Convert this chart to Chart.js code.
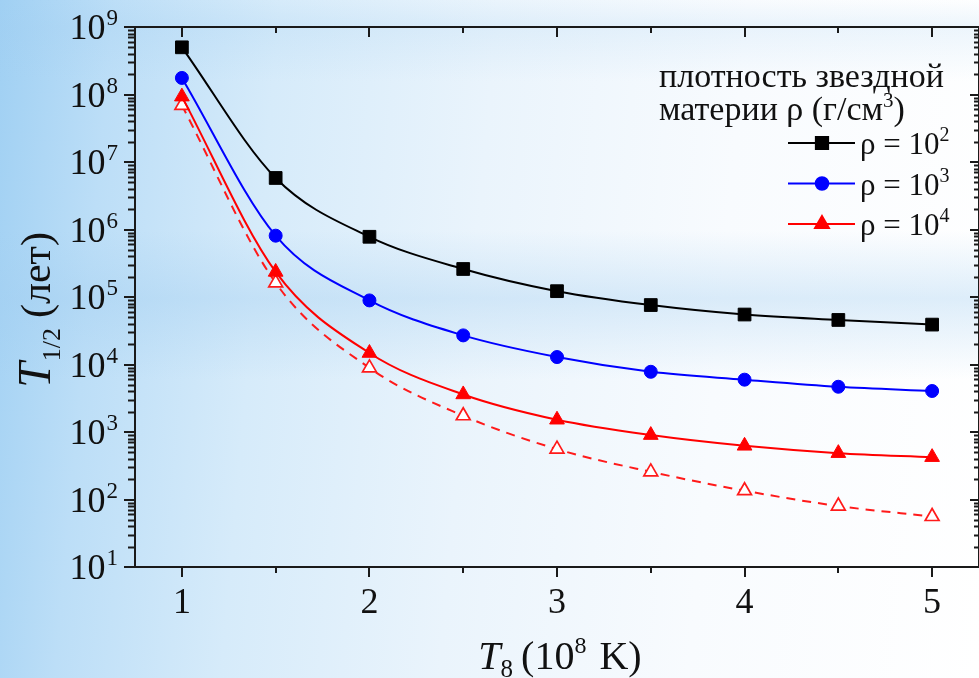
<!DOCTYPE html>
<html>
<head>
<meta charset="utf-8">
<script src="https://cdn.jsdelivr.net/npm/chart.js@4.4.1/dist/chart.umd.min.js"></script>
<style>
  html, body { margin: 0; padding: 0; width: 979px; height: 678px; overflow: hidden; }
  body {
    background:
      linear-gradient(180deg, rgba(160,205,240,0) 0%, rgba(160,205,240,0.18) 4%, rgba(160,205,240,0) 12%,
                      rgba(160,205,240,0) 34%, rgba(160,205,240,0.35) 44%, rgba(160,205,240,0) 56%,
                      rgba(160,205,240,0) 100%),
      linear-gradient(95deg, #a0d0f3 0%, #bcdef7 11%, #d6ebfa 27%, #eaf4fc 48%, #f8fbfe 72%, #ffffff 100%);
  }
  #wrap { position: relative; width: 979px; height: 678px; }
</style>
</head>
<body>
<div id="wrap"><canvas id="chart" width="979" height="678"></canvas></div>
<script>
// Temperature grid, T8 in units of 10^8 K
const temps = [1, 1.5, 2, 2.5, 3, 3.5, 4, 4.5, 5];
// Half-life T1/2 (years) for each stellar matter density
const halfLifeRho2 = [5.0e8, 5.8e6, 7.8e5, 2.6e5, 1.22e5, 7.6e4, 5.5e4, 4.57e4, 3.9e4];
const halfLifeRho3 = [1.76e8, 8.1e5, 8.9e4, 2.7e4, 1.29e4, 7.8e3, 5.96e3, 4.68e3, 4.05e3];
const halfLifeRho4 = [9.3e7, 2.35e5, 1.48e4, 3.6e3, 1.52e3, 900, 624, 486, 424];
const halfLifeRho4Alt = [6.9e7, 1.62e5, 8.9e3, 1.74e3, 557, 257, 135, 80, 56];
// Axis ticks
const xTickValues = [1, 2, 3, 4, 5];
const xMinorValues = [1.5, 2.5, 3.5, 4.5];
const yExponents = [1, 2, 3, 4, 5, 6, 7, 8, 9];
// Legend captions
const legendTitle1 = 'плотность звездной';
const legendTitle2 = 'материи ρ (г/см';
const densityExponents = ['2', '3', '4'];

const SERIF = '"Liberation Serif", "Times New Roman", serif';
const toPoints = arr => temps.map((t, i) => ({ x: t, y: arr[i] }));

// Text runs with sub/superscripts
function richWidth(ctx, parts) {
  let w = 0;
  for (const p of parts) { ctx.font = p.font; w += ctx.measureText(p.t).width + (p.gap || 0); }
  return w;
}
function drawRich(ctx, parts, x, y, align) {
  const w = richWidth(ctx, parts);
  let cx = align === 'right' ? x - w : align === 'center' ? x - w / 2 : x;
  ctx.textAlign = 'left';
  ctx.textBaseline = 'alphabetic';
  for (const p of parts) {
    ctx.font = p.font;
    ctx.fillText(p.t, cx, y + (p.dy || 0));
    cx += ctx.measureText(p.t).width + (p.gap || 0);
  }
}

function drawMarker(ctx, style, x, y, r, fill, stroke) {
  ctx.save();
  ctx.fillStyle = fill; ctx.strokeStyle = stroke; ctx.lineWidth = 1.5;
  ctx.beginPath();
  if (style === 'rect') {
    const s = Math.SQRT1_2 * r;
    ctx.rect(x - s, y - s, 2 * s, 2 * s);
  } else if (style === 'circle') {
    ctx.arc(x, y, r, 0, Math.PI * 2);
  } else {
    const half = r * Math.sqrt(3) / 2;
    ctx.moveTo(x, y - r);
    ctx.lineTo(x + half, y + r / 2);
    ctx.lineTo(x - half, y + r / 2);
    ctx.closePath();
  }
  ctx.fill(); ctx.stroke();
  ctx.restore();
}

const framePlugin = {
  id: 'frame',
  afterDraw(chart) {
    const ctx = chart.ctx;
    const { left, right, top, bottom } = chart.chartArea;
    const xs = chart.scales.x, ys = chart.scales.y;
    ctx.save();
    ctx.strokeStyle = '#1a1a1a';
    ctx.fillStyle = '#111';
    ctx.lineWidth = 2;
    // frame
    ctx.strokeRect(left, top, right - left, bottom - top);

    // x ticks: bottom outward, top inward
    ctx.beginPath();
    for (const v of xTickValues) {
      const px = Math.round(xs.getPixelForValue(v));
      ctx.moveTo(px, bottom); ctx.lineTo(px, bottom + 10);
      ctx.moveTo(px, top); ctx.lineTo(px, top + 10);
    }
    for (const v of xMinorValues) {
      const px = Math.round(xs.getPixelForValue(v));
      ctx.moveTo(px, bottom); ctx.lineTo(px, bottom + 6);
      ctx.moveTo(px, top); ctx.lineTo(px, top + 6);
    }
    // y ticks: left outward, right inward
    for (const e of yExponents) {
      const py = Math.round(ys.getPixelForValue(Math.pow(10, e)));
      ctx.moveTo(left, py); ctx.lineTo(left - 11, py);
      ctx.moveTo(right, py); ctx.lineTo(right - 9, py);
      if (e < 9) {
        for (let m = 2; m <= 9; m++) {
          const pm = Math.round(ys.getPixelForValue(m * Math.pow(10, e))) + 0.5;
          ctx.moveTo(left, pm); ctx.lineTo(left - 7, pm);
          ctx.moveTo(right, pm); ctx.lineTo(right - 5, pm);
        }
      }
    }
    ctx.stroke();

    // y tick labels 10^n
    for (const e of yExponents) {
      const py = ys.getPixelForValue(Math.pow(10, e));
      drawRich(ctx, [
        { t: '10', font: `36px ${SERIF}`, gap: 1 },
        { t: String(e), font: `23px ${SERIF}`, dy: -14 }
      ], 118, py + 12, 'right');
    }
    // x tick labels
    ctx.font = `36px ${SERIF}`;
    ctx.textAlign = 'center';
    ctx.textBaseline = 'alphabetic';
    for (const v of xTickValues) {
      ctx.fillText(String(v), xs.getPixelForValue(v), 613);
    }

    // x axis title: T8 (10^8 K)
    drawRich(ctx, [
      { t: 'T', font: `italic 40px ${SERIF}` },
      { t: '8', font: `25px ${SERIF}`, dy: 8, gap: 8 },
      { t: '(10', font: `40px ${SERIF}` },
      { t: '8', font: `24px ${SERIF}`, dy: -16, gap: 3 },
      { t: ' K)', font: `40px ${SERIF}` }
    ], 560, 669, 'center');

    // y axis title: T1/2 (лет), rotated
    ctx.save();
    ctx.translate(50, 310);
    ctx.rotate(-Math.PI / 2);
    drawRich(ctx, [
      { t: 'T', font: `italic 46px ${SERIF}`, gap: 1 },
      { t: '1/2', font: `26px ${SERIF}`, dy: 10, gap: 10 },
      { t: '(лет)', font: `42px ${SERIF}` }
    ], 0, 0, 'center');
    ctx.restore();

    // legend
    ctx.fillStyle = '#111';
    drawRich(ctx, [{ t: legendTitle1, font: `34px ${SERIF}` }], 659, 87, 'left');
    drawRich(ctx, [
      { t: legendTitle2, font: `34px ${SERIF}` },
      { t: '3', font: `21px ${SERIF}`, dy: -13 },
      { t: ')', font: `34px ${SERIF}` }
    ], 659, 120, 'left');
    const entries = chart.data.datasets.filter(d => d.inLegend);
    entries.forEach((d, i) => {
      const y = 143 + i * 40.5;
      ctx.save();
      ctx.strokeStyle = d.borderColor;
      ctx.lineWidth = 2;
      ctx.beginPath(); ctx.moveTo(788, y); ctx.lineTo(855, y); ctx.stroke();
      ctx.restore();
      drawMarker(ctx, d.pointStyle, 822, y, d.pointRadius, d.pointBackgroundColor, d.pointBorderColor);
      ctx.fillStyle = '#111';
      drawRich(ctx, [
        { t: 'ρ = 10', font: `31px ${SERIF}` },
        { t: densityExponents[i], font: `20px ${SERIF}`, dy: -13 }
      ], 860, y + 11, 'left');
    });
    ctx.restore();
  }
};

function series(label, values, color, style, radius, opts) {
  return Object.assign({
    label,
    data: toPoints(values),
    borderColor: color,
    backgroundColor: color,
    pointBackgroundColor: color,
    pointBorderColor: color,
    pointStyle: style,
    pointRadius: radius,
    pointHoverRadius: radius,
    pointBorderWidth: 1,
    borderWidth: 2,
    cubicInterpolationMode: 'monotone',
    fill: false,
    inLegend: true
  }, opts || {});
}

new Chart(document.getElementById('chart'), {
  type: 'line',
  data: {
    datasets: [
      series('ρ = 10^4 (alt)', halfLifeRho4Alt, '#ff1a1a', 'triangle', 8, {
        borderDash: [9, 7], pointBackgroundColor: '#ffffff', pointBorderWidth: 1.7, inLegend: false
      }),
      series('ρ = 10^4', halfLifeRho4, '#ff0000', 'triangle', 8.5),
      series('ρ = 10^3', halfLifeRho3, '#0000ff', 'circle', 6.5),
      series('ρ = 10^2', halfLifeRho2, '#000000', 'rect', 9)
    ].reverse()
  },
  options: {
    responsive: false,
    animation: false,
    events: [],
    layout: { autoPadding: false, padding: { top: 27, left: 0, right: 0, bottom: 0 } },
    plugins: { legend: { display: false }, tooltip: { enabled: false }, title: { display: false } },
    scales: {
      x: {
        type: 'linear', min: 0.75, max: 5.25,
        grid: { display: false }, border: { display: false },
        ticks: { display: false },
        afterFit: s => { s.height = 111; }
      },
      y: {
        type: 'logarithmic', min: 10, max: 1e9,
        grid: { display: false }, border: { display: false },
        ticks: { display: false },
        afterFit: s => { s.width = 135; }
      }
    }
  },
  plugins: [framePlugin]
});
</script>
</body>
</html>
